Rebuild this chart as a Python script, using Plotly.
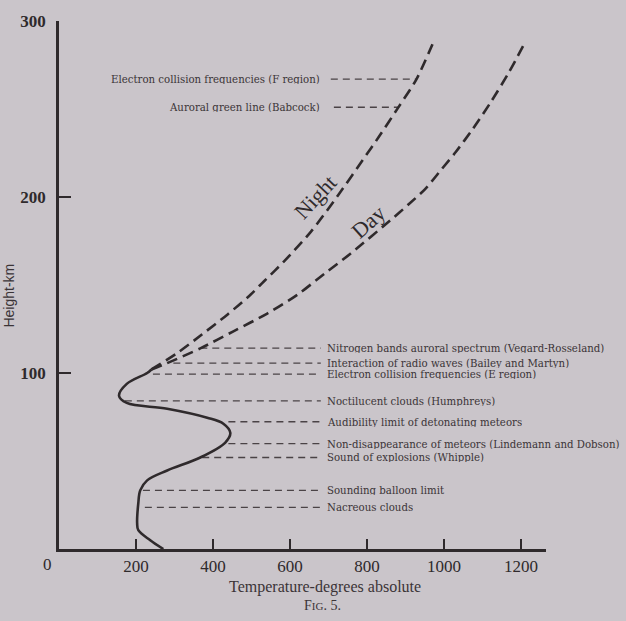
import plotly.graph_objects as go

# ---- data ----
solid_T = [271, 237, 206, 203, 206, 211, 229, 281, 367, 432, 445, 427, 385, 281, 176, 156, 176, 229, 240]
solid_h = [0, 5, 10.7, 14.7, 26, 33.3, 39, 44.6, 52, 60.5, 66, 71.2, 74.6, 79.7, 83, 87, 93.8, 100, 102]

night_T = [240, 307, 372, 438, 498, 532, 584, 654, 725, 803, 830, 881, 928, 975]
night_h = [102, 111.3, 122, 133.3, 144.6, 152, 163.3, 180.2, 201, 225.4, 233.9, 250.8, 266.7, 289.3]

day_T = [240, 281, 367, 453, 542, 620, 690, 757, 871, 909, 951, 994, 1030, 1074, 1121, 1168, 1210]
day_h = [102, 105.6, 114, 123.7, 133.9, 144.6, 156.5, 167.8, 188.7, 196, 204.5, 215.8, 225.4, 238.4, 253.7, 270.6, 287.6]

# upper labels: text to the left, dashed line to the Night curve
upper_labels = ["Electron collision frequencies (F region)", "Auroral green line (Babcock)"]
upper_h = [267, 251]
upper_line_T0 = [706, 714]
upper_line_T1 = [928, 881]

# lower labels: dashed line from curve to text at right
lower_labels = [
    "Nitrogen bands auroral spectrum (Vegard-Rosseland)",
    "Interaction of radio waves (Bailey and Martyn)",
    "Electron collision frequencies (E region)",
    "Noctilucent clouds (Humphreys)",
    "Audibility limit of detonating meteors",
    "Non-disappearance of meteors (Lindemann and Dobson)",
    "Sound of explosions (Whipple)",
    "Sounding balloon limit",
    "Nacreous clouds",
]
lower_h = [114.1, 105.6, 99.4, 84.2, 72.3, 59.9, 52, 33.3, 23.7]
lower_line_T0 = [367, 297, 244, 171, 440, 440, 372, 218, 223]
lower_line_T1 = 680
lower_text_T = 690
upper_text_T = 682

x_ticks = [200, 400, 600, 800, 1000, 1200]
y_ticks = [100, 200, 300]

INK = "#2f2a2c"
TEXT = "#3b3437"
BG = "#cac5ca"
SERIF = "Liberation Serif"
LABEL_FONT = "DejaVu Serif"

fig = go.Figure()

# label dashed lines
for t0, t1, h in zip(upper_line_T0, upper_line_T1, upper_h):
    fig.add_trace(go.Scatter(x=[t0, t1], y=[h, h], mode="lines",
                             line=dict(color="#4a4346", width=1.3, dash="7px,5px"),
                             hoverinfo="skip", showlegend=False))
for t0, h in zip(lower_line_T0, lower_h):
    fig.add_trace(go.Scatter(x=[t0, lower_line_T1], y=[h, h], mode="lines",
                             line=dict(color="#4a4346", width=1.3, dash="7px,5px"),
                             hoverinfo="skip", showlegend=False))

# curves
fig.add_trace(go.Scatter(x=solid_T, y=solid_h, mode="lines",
                         line=dict(color=INK, width=2.6, shape="spline", smoothing=1.0),
                         hoverinfo="skip", showlegend=False))
fig.add_trace(go.Scatter(x=night_T, y=night_h, mode="lines",
                         line=dict(color=INK, width=2.6, shape="spline", smoothing=0.8, dash="11px,6px"),
                         hoverinfo="skip", showlegend=False))
fig.add_trace(go.Scatter(x=day_T, y=day_h, mode="lines",
                         line=dict(color=INK, width=2.6, shape="spline", smoothing=0.8, dash="11px,6px"),
                         hoverinfo="skip", showlegend=False))

ann = []
for txt, h in zip(upper_labels, upper_h):
    ann.append(dict(x=upper_text_T, y=h, xref="x", yref="y", text=txt, showarrow=False,
                    xanchor="right", yanchor="middle", height=10,
                    font=dict(family=LABEL_FONT, size=10.2, color=TEXT)))
for txt, h in zip(lower_labels, lower_h):
    ann.append(dict(x=lower_text_T, y=h, xref="x", yref="y", text=txt, showarrow=False,
                    xanchor="left", yanchor="middle", height=10,
                    font=dict(family=LABEL_FONT, size=10.2, color=TEXT)))

# curve names
ann.append(dict(x=664, y=200, xref="x", yref="y", text="Night", showarrow=False, textangle=-47,
                font=dict(family=SERIF, size=22, color=INK)))
ann.append(dict(x=805, y=186, xref="x", yref="y", text="Day", showarrow=False, textangle=-42,
                font=dict(family=SERIF, size=22, color=INK)))

# axis texts
ann.append(dict(x=-0.0246, y=-0.030, xref="paper", yref="paper", text="0", showarrow=False,
                xanchor="center", yanchor="middle",
                font=dict(family=SERIF, size=17, color=INK)))
ann.append(dict(x=0.546, y=-0.0716, xref="paper", yref="paper", text="Temperature-degrees absolute",
                showarrow=False, xanchor="center", yanchor="middle",
                font=dict(family=SERIF, size=16, color=TEXT)))
ann.append(dict(x=0.542, y=-0.107, xref="paper", yref="paper",
                text="F<span style='font-size:11px'>IG</span>. 5.",
                showarrow=False, xanchor="center", yanchor="middle",
                font=dict(family=SERIF, size=14, color=TEXT)))
ann.append(dict(x=-0.1027, y=0.48, xref="paper", yref="paper", text="Height-km",
                showarrow=False, textangle=-90, xanchor="center", yanchor="middle",
                font=dict(family="Liberation Sans", size=14, color=TEXT)))

fig.update_layout(
    width=626, height=621,
    margin=dict(l=59, r=80, t=18, b=72),
    paper_bgcolor=BG, plot_bgcolor=BG,
    annotations=ann,
    xaxis=dict(range=[0, 1265], showline=True, linewidth=2.5, linecolor=INK,
               ticks="inside", ticklen=10, tickwidth=1.6, tickcolor=INK,
               tickvals=x_ticks, ticktext=[str(v) for v in x_ticks],
               showgrid=False, zeroline=False,
               tickfont=dict(family=SERIF, size=17, color=INK)),
    yaxis=dict(range=[0, 300], showline=True, linewidth=2.5, linecolor=INK,
               ticks="inside", ticklen=12, tickwidth=2, tickcolor=INK,
               tickvals=y_ticks, ticktext=[str(v) for v in y_ticks],
               showgrid=False, zeroline=False, ticklabelstandoff=7,
               tickfont=dict(family=SERIF, size=17, color=INK, weight="bold")),
)

fig.write_html("out.html", config={"displayModeBar": False},
               post_script="document.body.style.margin='0';document.body.style.overflow='hidden';")
